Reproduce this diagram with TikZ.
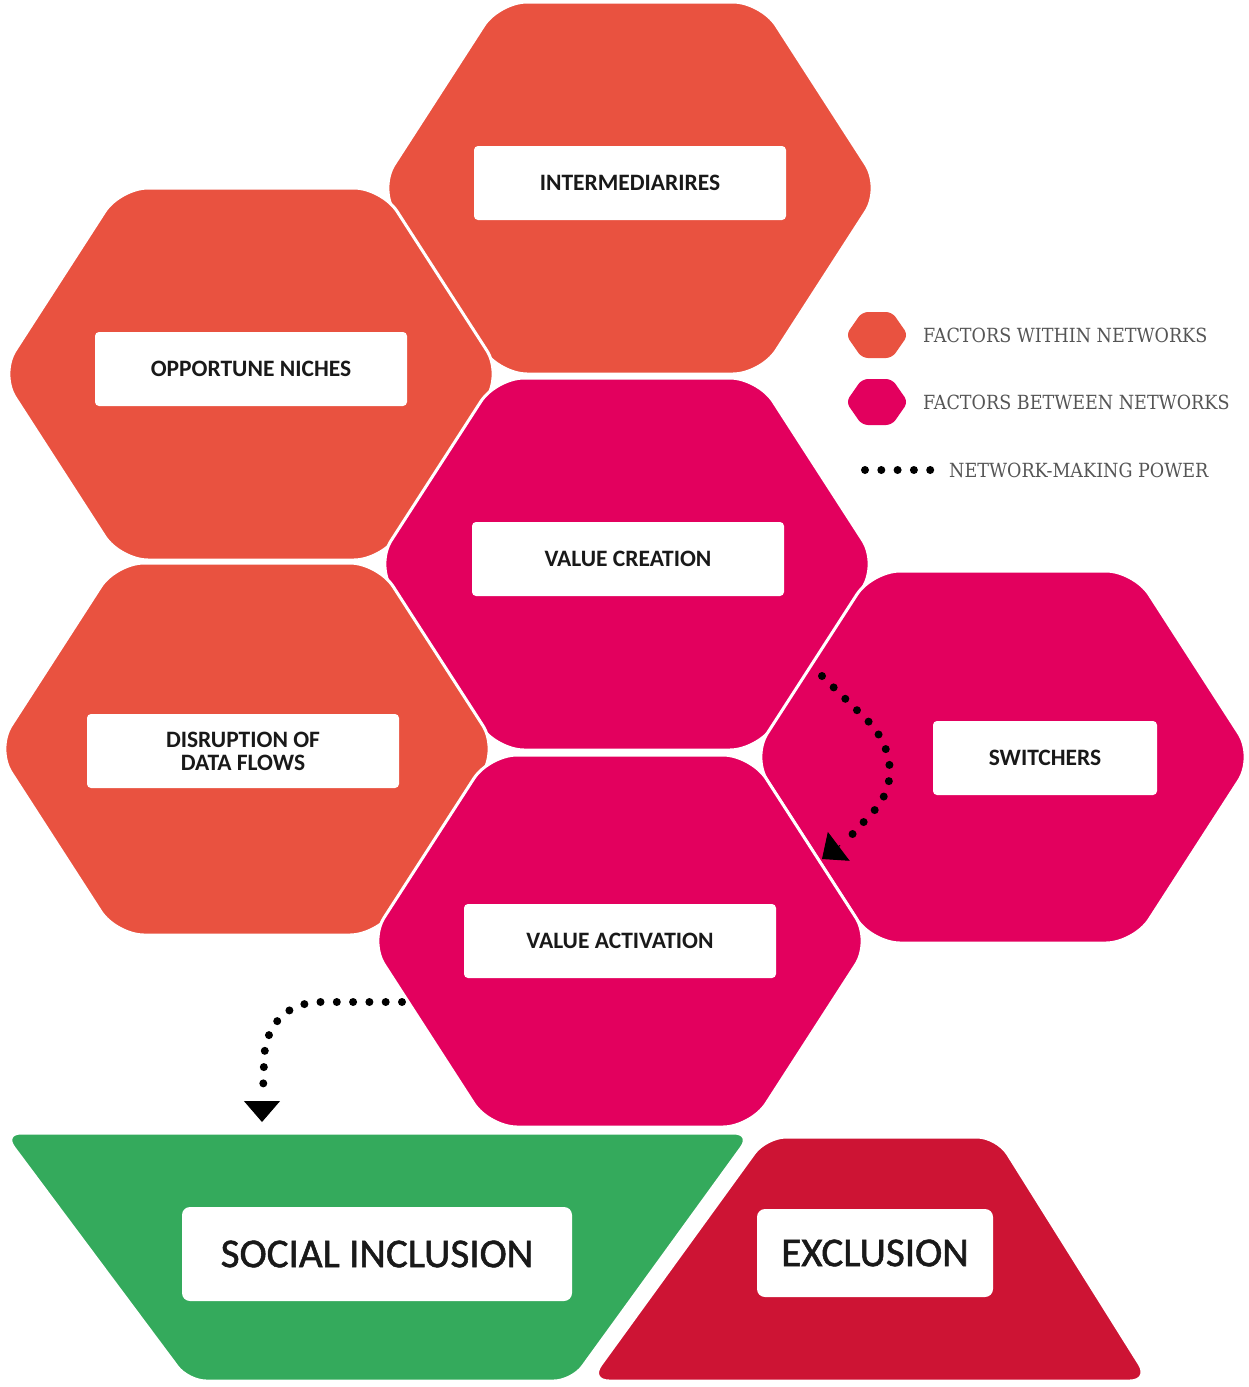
\documentclass[tikz,border=0pt]{standalone}
\usepackage{fontspec}
\setmainfont{Carlito}
\newfontfamily\legfont[FakeStretch=0.90]{DejaVu Serif}
\newfontfamily\bigfont[FakeBold=1.3]{Carlito}
\usetikzlibrary{arrows.meta}
\definecolor{orng}{RGB}{233,82,64}
\definecolor{mgnt}{RGB}{227,0,94}
\definecolor{grn}{RGB}{52,170,92}
\definecolor{rd}{RGB}{205,20,52}
\definecolor{leggray}{RGB}{85,85,85}
\definecolor{labtext}{RGB}{25,25,25}
\tikzset{
  hexfill/.style={fill=#1, draw=white, line width=3pt, rounded corners=28pt},
  leghex/.style={fill=#1, rounded corners=6pt},
  labelbox/.style={fill=white, rounded corners=4pt, minimum width=312pt, minimum height=74pt,
    inner sep=0pt, align=center, text=labtext, font=\bfseries\fontsize{23.5}{24}\selectfont},
  biglabel/.style={fill=white, rounded corners=8pt, minimum height=94pt,
    inner sep=0pt, align=center, text=labtext, font=\bigfont\fontsize{41}{44}\selectfont},
  dotline/.style={line width=8pt, line cap=round, dash pattern=on 0pt off 16.3pt},
  tipline/.style={line width=1pt, -{Triangle[width=36pt,length=21pt]}},
  legtext/.style={anchor=west, inner sep=0pt, text=leggray, font=\legfont\fontsize{19.5}{20}\selectfont},
}
\newcommand\hexa[3]{\path[hexfill=#3] (#1-251,#2) -- (#1-131,#2-186) -- (#1+131,#2-186) -- (#1+251,#2) -- (#1+131,#2+186) -- (#1-131,#2+186) -- cycle;}
\newcommand\smallhex[3]{\path[leghex=#3] (#1-31,#2) -- (#1-15,#2-23) -- (#1+15,#2-23) -- (#1+31,#2) -- (#1+15,#2+23) -- (#1-15,#2+23) -- cycle;}
\begin{document}
\begin{tikzpicture}[x=1pt,y=-1pt]
\useasboundingbox (0,0) rectangle (1248,1387);
% hexagons
\hexa{630}{188}{orng}
\hexa{251}{374}{orng}
\hexa{627}{564}{mgnt}
\hexa{247}{749}{orng}
\hexa{1003}{757}{mgnt}
\hexa{620}{941}{mgnt}
% bottom trapezoids
\path[fill=grn, draw=white, line width=3pt, rounded corners=18pt] (3,1133) -- (752,1133) -- (572,1381) -- (188,1381) -- cycle;
\path[fill=rd, draw=white, line width=3pt, rounded corners=20pt] (766,1137) -- (997,1137) -- (1150,1381) -- (589,1381) -- cycle;
% labels
\node[labelbox] (inter) at (630,183) {INTERMEDIARIRES};
\node[labelbox] (niches) at (251,369) {OPPORTUNE NICHES};
\node[labelbox] (vcreate) at (628,559) {VALUE CREATION};
\node[labelbox] (disrupt) at (243,751) {DISRUPTION OF\\[-1pt]DATA FLOWS};
\node[labelbox, minimum width=224pt] (switch) at (1045,758) {SWITCHERS};
\node[labelbox] (vact) at (620,941) {VALUE ACTIVATION};
\node[biglabel, minimum width=390pt] (incl) at (377,1254) {SOCIAL INCLUSION};
\node[biglabel, minimum width=236pt, minimum height=88pt] (excl) at (875,1253) {EXCLUSION};
% legend
\smallhex{877}{335}{orng}
\smallhex{877}{402}{mgnt}
\node[legtext] (lg1) at (923,335) {FACTORS WITHIN NETWORKS};
\node[legtext] (lg2) at (923,402) {FACTORS BETWEEN NETWORKS};
\coordinate (ld1) at (865,470);
\coordinate (ld2) at (931,470);
\draw[dotline] (ld1) -- (ld2);
\node[legtext] (lg3) at (949,470) {NETWORK-MAKING POWER};
% network-making power arrows
\coordinate (a1s) at (822,676);
\coordinate (a1e) at (847,840);
\coordinate (a1b) at (840,845.4);
\coordinate (a1t) at (822,859);
\draw[dotline] (a1s) -- (868,721) .. controls (892,746) and (900,784) .. (872,813) -- (a1e);
\draw[tipline] (a1b) -- (a1t);
\coordinate (a2s) at (402,1002);
\coordinate (a2e) at (263,1092);
\coordinate (a2b) at (262,1101);
\coordinate (a2t) at (262,1122);
\draw[dotline] (a2s) -- (318,1002) .. controls (282,1004) and (264,1030) .. (264,1062) -- (a2e);
\draw[tipline] (a2b) -- (a2t);
\end{tikzpicture}
\end{document}
